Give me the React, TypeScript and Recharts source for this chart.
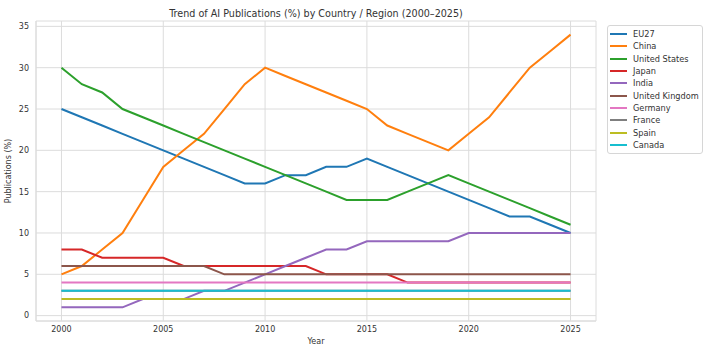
import { CartesianGrid, Line, LineChart, XAxis, YAxis } from "recharts";

const years = [
  2000, 2001, 2002, 2003, 2004, 2005, 2006, 2007, 2008, 2009, 2010, 2011, 2012,
  2013, 2014, 2015, 2016, 2017, 2018, 2019, 2020, 2021, 2022, 2023, 2024, 2025,
];

const eu27 = [25, 24, 23, 22, 21, 20, 19, 18, 17, 16, 16, 17, 17, 18, 18, 19, 18, 17, 16, 15, 14, 13, 12, 12, 11, 10];
const china = [5, 6, 8, 10, 14, 18, 20, 22, 25, 28, 30, 29, 28, 27, 26, 25, 23, 22, 21, 20, 22, 24, 27, 30, 32, 34];
const unitedStates = [30, 28, 27, 25, 24, 23, 22, 21, 20, 19, 18, 17, 16, 15, 14, 14, 14, 15, 16, 17, 16, 15, 14, 13, 12, 11];
const japan = [8, 8, 7, 7, 7, 7, 6, 6, 6, 6, 6, 6, 6, 5, 5, 5, 5, 4, 4, 4, 4, 4, 4, 4, 4, 4];
const india = [1, 1, 1, 1, 2, 2, 2, 3, 3, 4, 5, 6, 7, 8, 8, 9, 9, 9, 9, 9, 10, 10, 10, 10, 10, 10];
const unitedKingdom = [6, 6, 6, 6, 6, 6, 6, 6, 5, 5, 5, 5, 5, 5, 5, 5, 5, 5, 5, 5, 5, 5, 5, 5, 5, 5];
const germany = [4, 4, 4, 4, 4, 4, 4, 4, 4, 4, 4, 4, 4, 4, 4, 4, 4, 4, 4, 4, 4, 4, 4, 4, 4, 4];
const france = [3, 3, 3, 3, 3, 3, 3, 3, 3, 3, 3, 3, 3, 3, 3, 3, 3, 3, 3, 3, 3, 3, 3, 3, 3, 3];
const spain = [2, 2, 2, 2, 2, 2, 2, 2, 2, 2, 2, 2, 2, 2, 2, 2, 2, 2, 2, 2, 2, 2, 2, 2, 2, 2];
const canada = [3, 3, 3, 3, 3, 3, 3, 3, 3, 3, 3, 3, 3, 3, 3, 3, 3, 3, 3, 3, 3, 3, 3, 3, 3, 3];

const xTicks = [2000, 2005, 2010, 2015, 2020, 2025];
const yTicks = [0, 5, 10, 15, 20, 25, 30, 35];

const series = [
  { key: "eu27", name: "EU27", values: eu27, color: "#1f77b4" },
  { key: "china", name: "China", values: china, color: "#ff7f0e" },
  { key: "us", name: "United States", values: unitedStates, color: "#2ca02c" },
  { key: "japan", name: "Japan", values: japan, color: "#d62728" },
  { key: "india", name: "India", values: india, color: "#9467bd" },
  { key: "uk", name: "United Kingdom", values: unitedKingdom, color: "#8c564b" },
  { key: "germany", name: "Germany", values: germany, color: "#e377c2" },
  { key: "france", name: "France", values: france, color: "#7f7f7f" },
  { key: "spain", name: "Spain", values: spain, color: "#bcbd22" },
  { key: "canada", name: "Canada", values: canada, color: "#17becf" },
];

const rows = years.map((year, i) => {
  const row: Record<string, number> = { year };
  series.forEach((s) => {
    row[s.key] = s.values[i];
  });
  return row;
});

const FONT = "'DejaVu Sans', sans-serif";
const TEXT = "#333";
const GRID = "#dcdcdc";
const X_DOMAIN = [1998.75, 2026.25];
const Y_DOMAIN = [-0.65, 35.65];

// legend box, kept in series order (outside the plot area)
function LegendBox() {
  return (
    <div
      style={{
        position: "absolute",
        left: 607,
        top: 25,
        width: 96,
        boxSizing: "border-box",
        border: "1px solid #d6d6d6",
        borderRadius: 3,
        background: "#fff",
        padding: "2px 2px 2px 2px",
        fontFamily: FONT,
        fontSize: 8.2,
        color: TEXT,
      }}
    >
      {series.map((s) => (
        <div
          key={s.key}
          style={{ display: "flex", alignItems: "center", height: 12.3 }}
        >
          <span
            style={{
              display: "inline-block",
              width: 17,
              height: 2,
              background: s.color,
              marginRight: 6,
            }}
          />
          <span style={{ whiteSpace: "nowrap" }}>{s.name}</span>
        </div>
      ))}
    </div>
  );
}

export default function App() {
  return (
    <div
      style={{
        position: "absolute",
        left: 0,
        top: 0,
        width: 708,
        height: 352,
        background: "#fff",
      }}
    >
      <LineChart
        width={708}
        height={352}
        data={rows}
        margin={{ top: 21, right: 112, bottom: 0, left: 0 }}
      >
        <text
          x={316}
          y={16.5}
          textAnchor="middle"
          fontFamily={FONT}
          fontSize={9.6}
          fill={TEXT}
        >
          Trend of AI Publications (%) by Country / Region (2000–2025)
        </text>
        <text
          x={11}
          y={171}
          textAnchor="middle"
          transform="rotate(-90 11 171)"
          fontFamily={FONT}
          fontSize={8}
          fill={TEXT}
        >
          Publications (%)
        </text>
        <text
          x={316}
          y={344}
          textAnchor="middle"
          fontFamily={FONT}
          fontSize={8}
          fill={TEXT}
        >
          Year
        </text>
        <CartesianGrid stroke={GRID} strokeWidth={1} />
        <XAxis
          dataKey="year"
          type="number"
          domain={X_DOMAIN}
          ticks={xTicks}
          allowDataOverflow
          height={31}
          tickLine={false}
          tickSize={0}
          tickMargin={5}
          stroke={GRID}
          tick={{ fill: TEXT, fontSize: 8, fontFamily: FONT }}
        />
        <YAxis
          type="number"
          domain={Y_DOMAIN}
          ticks={yTicks}
          allowDataOverflow
          width={36}
          tickLine={false}
          tickSize={0}
          tickMargin={7}
          stroke={GRID}
          tick={{ fill: TEXT, fontSize: 8, fontFamily: FONT }}
        />
        {/* right and top spines */}
        <XAxis
          xAxisId="top"
          orientation="top"
          height={0}
          tick={false}
          tickLine={false}
          stroke={GRID}
          dataKey="year"
          type="number"
          domain={X_DOMAIN}
        />
        <YAxis
          yAxisId="right"
          orientation="right"
          width={0}
          tick={false}
          tickLine={false}
          stroke={GRID}
          domain={Y_DOMAIN}
        />
        {series.map((s) => (
          <Line
            key={s.key}
            dataKey={s.key}
            name={s.name}
            stroke={s.color}
            strokeWidth={2}
            dot={false}
            type="linear"
            isAnimationActive={false}
          />
        ))}
      </LineChart>
      <LegendBox />
    </div>
  );
}
